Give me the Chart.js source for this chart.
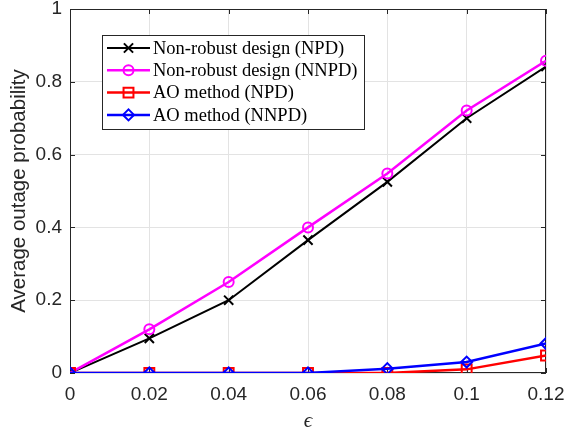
<!DOCTYPE html>
<html>
<head>
<meta charset="utf-8">
<script src="https://cdn.jsdelivr.net/npm/chart.js@4/dist/chart.umd.min.js"></script>
<style>
  html, body { margin: 0; padding: 0; background: #fff; }
  #wrap { width: 566px; height: 434px; position: relative; }
</style>
</head>
<body>
<div id="wrap"><canvas id="chart" width="566" height="434"></canvas></div>
<script>
// outage probability vs. epsilon
const epsValues = [0, 0.02, 0.04, 0.06, 0.08, 0.1, 0.12];
const nonRobustNPD = [0, 0.095, 0.2, 0.365, 0.525, 0.70, 0.842];
const nonRobustNNPD = [0, 0.12, 0.25, 0.40, 0.548, 0.721, 0.858];
const aoNPD = [0, 0, 0, 0, 0, 0.01, 0.048];
const aoNNPD = [0, 0, 0, 0, 0.012, 0.03, 0.081];
const yTicks = [0, 0.2, 0.4, 0.6, 0.8, 1];

const seriesNames = ['Non-robust design (NPD)', 'Non-robust design (NNPD)', 'AO method (NPD)', 'AO method (NNPD)'];
const seriesColors = ['#000000', '#ff00ff', '#ff0000', '#0000ff'];
const seriesMarkers = ['crossRot', 'circle', 'rect', 'rectRot'];
const markerRadius = [6.5, 5, 7, 5.5];
const seriesValues = [nonRobustNPD, nonRobustNNPD, aoNPD, aoNNPD];
const lineWidths = [2, 2.5, 2.5, 2.5];

const axisColor = '#262626';
const gridColor = '#e3e3e3';
const sansFont = '"Liberation Sans", Arial, sans-serif';

function toPoints(vals) {
    return vals.map((v, i) => ({ x: epsValues[i], y: v }));
}

const datasets = seriesValues.map((vals, i) => ({
    label: seriesNames[i],
    data: toPoints(vals),
    borderColor: seriesColors[i],
    backgroundColor: 'transparent',
    pointBackgroundColor: 'transparent',
    pointBorderColor: seriesColors[i],
    pointStyle: seriesMarkers[i],
    pointRadius: markerRadius[i],
    pointBorderWidth: 2,
    borderWidth: lineWidths[i],
    tension: 0,
    order: seriesValues.length - i
}));

// box around the axes plus inward tick marks
const framePlugin = {
    id: 'frame',
    beforeDatasetsDraw(chart) {
        const { ctx, chartArea: a, scales } = chart;
        ctx.save();
        ctx.strokeStyle = axisColor;
        ctx.lineWidth = 1;
        ctx.strokeRect(a.left + 0.5, a.top + 0.5, a.right - a.left - 1, a.bottom - a.top - 1);
        ctx.beginPath();
        epsValues.forEach(v => {
            const x = Math.round(scales.x.getPixelForValue(v)) + 0.5;
            ctx.moveTo(x, a.bottom); ctx.lineTo(x, a.bottom - 5);
            ctx.moveTo(x, a.top); ctx.lineTo(x, a.top + 5);
        });
        yTicks.forEach(v => {
            const y = Math.round(scales.y.getPixelForValue(v)) + 0.5;
            ctx.moveTo(a.left, y); ctx.lineTo(a.left + 5, y);
            ctx.moveTo(a.right, y); ctx.lineTo(a.right - 5, y);
        });
        ctx.stroke();
        ctx.restore();
    }
};

// legend box in the upper left of the plot
const legendPlugin = {
    id: 'boxLegend',
    afterDraw(chart) {
        const ctx = chart.ctx;
        const box = { x: 102, y: 35, w: 262, h: 94 };
        ctx.save();
        ctx.fillStyle = '#fff';
        ctx.fillRect(box.x, box.y, box.w, box.h);
        ctx.strokeStyle = axisColor;
        ctx.lineWidth = 1;
        ctx.strokeRect(box.x + 0.5, box.y + 0.5, box.w, box.h);
        ctx.textBaseline = 'middle';
        seriesNames.forEach((name, i) => {
            const y = 48 + i * 22.3;
            const ds = chart.data.datasets[i];
            ctx.strokeStyle = ds.borderColor;
            ctx.lineWidth = ds.borderWidth;
            ctx.beginPath();
            ctx.moveTo(107, y); ctx.lineTo(150, y);
            ctx.stroke();
            ctx.fillStyle = 'rgba(0,0,0,0)';
            ctx.lineWidth = 2;
            Chart.helpers.drawPoint(ctx, {
                pointStyle: ds.pointStyle,
                radius: ds.pointRadius,
                borderWidth: 2,
                rotation: 0
            }, 128.5, y);
            ctx.fillStyle = '#000';
            ctx.font = '18.5px "Liberation Serif", "Times New Roman", serif';
            ctx.fillText(name, 153, y + 1);
        });
        ctx.restore();
    }
};

new Chart(document.getElementById('chart'), {
    type: 'line',
    data: { datasets },
    options: {
        responsive: false,
        animation: false,
        layout: { padding: { top: 5, right: 20, left: 0, bottom: 0 } },
        plugins: { legend: { display: false }, tooltip: { enabled: false } },
        scales: {
            x: {
                type: 'linear',
                min: 0,
                max: 0.12,
                afterBuildTicks(scale) {
                    scale.ticks = epsValues.map(v => ({ value: v }));
                },
                afterFit(scale) {
                    scale.height = 61;
                    scale.paddingLeft = 0;
                    scale.paddingRight = 0;
                },
                grid: { color: gridColor, drawTicks: false },
                border: { display: false },
                ticks: {
                    color: axisColor,
                    font: { family: sansFont, size: 19 },
                    padding: 10,
                    maxRotation: 0,
                    autoSkip: false,
                    callback: v => String(+v.toFixed(2))
                },
                title: {
                    display: true,
                    text: 'ϵ',
                    color: axisColor,
                    font: { family: '"Liberation Serif", serif', size: 21, style: 'italic' },
                    padding: { top: 0, bottom: 0 }
                }
            },
            y: {
                min: 0,
                max: 1,
                afterBuildTicks(scale) {
                    scale.ticks = yTicks.map(v => ({ value: v }));
                },
                afterFit(scale) {
                    scale.width = 70;
                    scale.paddingTop = 0;
                    scale.paddingBottom = 0;
                },
                grid: { color: gridColor, drawTicks: false },
                border: { display: false },
                ticks: {
                    color: axisColor,
                    font: { family: sansFont, size: 19 },
                    padding: 8,
                    callback: v => String(+v.toFixed(1))
                },
                title: {
                    display: true,
                    text: 'Average outage probability',
                    color: axisColor,
                    font: { family: sansFont, size: 20.5 },
                    padding: { top: 7, bottom: 0 }
                }
            }
        }
    },
    plugins: [framePlugin, legendPlugin]
});
</script>
</body>
</html>
